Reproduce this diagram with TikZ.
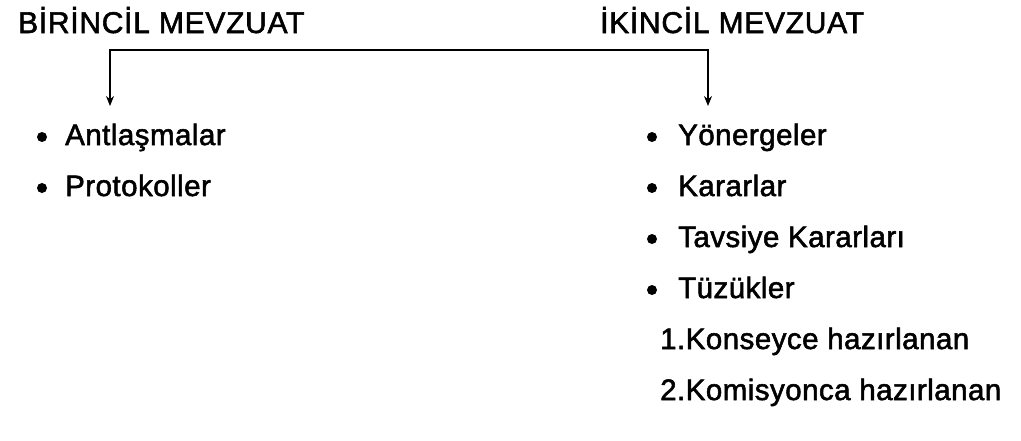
\documentclass[tikz,border=0pt]{standalone}
\usepackage{fontspec}
\setmainfont{Liberation Sans}
\newfontfamily\headfont{Liberation Sans}[FakeBold=1.8,LetterSpace=2.4]
\newfontfamily\itemfont{Liberation Sans}[FakeBold=1.8,LetterSpace=1.6]
\usetikzlibrary{arrows.meta}
\begin{document}
\begin{tikzpicture}[x=1pt,y=-1pt,
  head/.style={anchor=base west,inner sep=0pt,font=\headfont\fontsize{30}{34}\selectfont},
  item/.style={anchor=base west,inner sep=0pt,font=\itemfont\fontsize{29.5}{33}\selectfont},
  dot/.style={circle,fill=black,inner sep=0pt,minimum size=10pt},
  link/.style={line width=1.1pt,{Stealth[length=10pt,width=8pt]}-{Stealth[length=10pt,width=8pt]}}]
\useasboundingbox (0,0) rectangle (1021,440);
% headings
\node[head] (prim) at (18,33) {BİRİNCİL MEVZUAT};
\node[head] (sec)  at (600,33) {İKİNCİL MEVZUAT};
% bracket with its two arrow ends
\coordinate (endL) at (110,106);
\coordinate (endR) at (708,106);
\coordinate (mid)  at (409,50);
\draw[link] (endL) |- (mid) -| (endR);
% primary legislation
\node[dot] (b1) at (42,137) {};
\node[item] (t1) at (65,145) {Antlaşmalar};
\node[dot] (b2) at (42,188) {};
\node[item] (t2) at (65,196) {Protokoller};
% secondary legislation
\node[dot] (r1) at (652,137) {};
\node[item] (s1) at (678,145) {Yönergeler};
\node[dot] (r2) at (652,188) {};
\node[item] (s2) at (678,196) {Kararlar};
\node[dot] (r3) at (652,239) {};
\node[item] (s3) at (678,247) {Tavsiye Kararları};
\node[dot] (r4) at (652,290) {};
\node[item] (s4) at (678,298) {Tüzükler};
\node[item] (s5) at (660,349) {1.Konseyce hazırlanan};
\node[item] (s6) at (660,400) {2.Komisyonca hazırlanan};
\end{tikzpicture}
\end{document}
